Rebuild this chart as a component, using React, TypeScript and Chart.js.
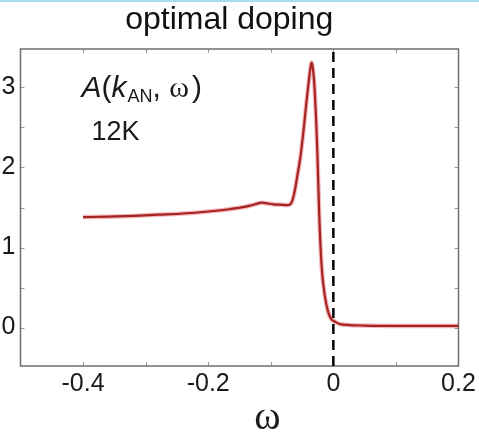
import React, { useEffect, useRef } from "react";
import { Chart, registerables } from "chart.js";

Chart.register(...registerables);

// ---- data ----
const omega = [
  -0.4, -0.36, -0.32, -0.28, -0.24, -0.2, -0.17, -0.14, -0.125, -0.114,
  -0.105, -0.096, -0.085, -0.074, -0.069, -0.066, -0.0614, -0.0575, -0.0534,
  -0.0481, -0.0427, -0.0385, -0.0365, -0.0347, -0.033, -0.0305, -0.0257,
  -0.0225, -0.0187, -0.0134, -0.0085, -0.0054, -0.002, 0.0026, 0.01, 0.0265,
  0.05, 0.1, 0.15, 0.2,
];
const spectral = [
  1.38, 1.385, 1.395, 1.41, 1.425, 1.45, 1.475, 1.51, 1.54, 1.56,
  1.55, 1.54, 1.535, 1.53, 1.54, 1.575, 1.72, 1.9, 2.09,
  2.43, 2.84, 3.13, 3.25, 3.31, 3.25, 3.05, 2.22,
  1.39, 0.76, 0.385, 0.2, 0.135, 0.095, 0.073, 0.045, 0.031,
  0.025, 0.02, 0.02, 0.02,
];
const xRange = [-0.5, 0.2];
const yRange = [-0.48, 3.48];
const xTickLabels = [-0.4, -0.2, 0, 0.2];
const yTickLabels = [0, 1, 2, 3];
const xMarkTicks = [-0.4, -0.3, -0.2, -0.1, 0, 0.1];
const yMarkTicks = [0, 0.5, 1, 1.5, 2, 2.5, 3];
const fermiLevel = 0;
const titleText = "optimal doping";
const xAxisTitle = "ω";
const tempLabel = "12K";

const SANS = "'Liberation Sans', Arial, Helvetica, sans-serif";
const SERIF = "'Liberation Serif', 'Times New Roman', serif";

export default function App() {
  const ref = useRef<HTMLCanvasElement>(null);

  useEffect(() => {
    const canvas = ref.current;
    if (!canvas) return;

    const framePlugin = {
      id: "frame",
      beforeDraw(chart: any) {
        const { ctx, width, height } = chart;
        ctx.save();
        ctx.fillStyle = "#ffffff";
        ctx.fillRect(0, 0, width, height);
        ctx.fillStyle = "#a8dcf5";
        ctx.fillRect(0, 0, width, 2);
        ctx.restore();
      },
      beforeDatasetsDraw(chart: any) {
        const { ctx, chartArea } = chart;
        const xs = chart.scales.x;
        const ys = chart.scales.y;
        const { left, right, top, bottom } = chartArea;
        ctx.save();
        ctx.strokeStyle = "#9a9a9a";
        ctx.lineWidth = 1;
        const len = 4;
        ctx.beginPath();
        xMarkTicks.forEach((v) => {
          const px = Math.round(xs.getPixelForValue(v)) + 0.5;
          ctx.moveTo(px, bottom);
          ctx.lineTo(px, bottom - len);
          ctx.moveTo(px, top);
          ctx.lineTo(px, top + len);
        });
        yMarkTicks.forEach((v) => {
          const py = Math.round(ys.getPixelForValue(v)) + 0.5;
          ctx.moveTo(left, py);
          ctx.lineTo(left + len, py);
          ctx.moveTo(right, py);
          ctx.lineTo(right - len, py);
        });
        ctx.stroke();
        ctx.strokeStyle = "#6e6e6e";
        ctx.lineWidth = 1.5;
        ctx.strokeRect(left, top, right - left, bottom - top);
        ctx.restore();
      },
      afterDraw(chart: any) {
        const { ctx, chartArea } = chart;
        ctx.save();
        ctx.fillStyle = "#1a1a1a";
        ctx.textBaseline = "alphabetic";
        ctx.textAlign = "left";
        // A(k_AN, ω)
        let x = chartArea.left + 61;
        const base = chartArea.top + 48;
        const seg = (t: string, font: string, dy = 0, gap = 0) => {
          ctx.font = font;
          ctx.fillText(t, x, base + dy);
          x += ctx.measureText(t).width + gap;
        };
        seg("A", `italic 30px ${SANS}`);
        seg("(", `30px ${SANS}`);
        seg("k", `italic 30px ${SANS}`, 0, 1);
        seg("AN", `18px ${SANS}`, 5);
        seg(", ", `30px ${SANS}`);
        seg("ω", `30px ${SERIF}`, 0, 3);
        seg(")", `30px ${SANS}`);
        // 12K
        ctx.font = `27px ${SANS}`;
        ctx.fillText(tempLabel, chartArea.left + 71, chartArea.top + 91);
        // x axis title
        ctx.font = `40px ${SERIF}`;
        ctx.textAlign = "center";
        ctx.fillText(xAxisTitle, (chartArea.left + chartArea.right) / 2 + 28, chartArea.bottom + 63);
        ctx.restore();
      },
    };

    const curve = omega.map((w, i) => ({ x: w, y: spectral[i] }));

    const chart = new Chart(canvas, {
      type: "line",
      data: {
        datasets: [
          {
            data: curve,
            borderColor: "rgba(215, 55, 55, 0.35)",
            borderWidth: 4.5,
            pointRadius: 0,
            cubicInterpolationMode: "monotone",
            fill: false,
          },
          {
            data: curve,
            borderColor: "#8e1a1a",
            borderWidth: 2.2,
            pointRadius: 0,
            cubicInterpolationMode: "monotone",
            fill: false,
          },
          {
            data: [
              { x: fermiLevel, y: yRange[0] },
              { x: fermiLevel, y: yRange[1] },
            ],
            borderColor: "#000000",
            borderWidth: 2.5,
            borderDash: [10, 6],
            pointRadius: 0,
            fill: false,
          },
        ],
      },
      options: {
        animation: false,
        responsive: true,
        maintainAspectRatio: false,
        layout: { padding: { left: 0, right: 20.5, top: 0, bottom: 0 } },
        plugins: {
          legend: { display: false },
          tooltip: { enabled: false },
          title: {
            display: true,
            text: titleText,
            color: "#111111",
            font: { size: 32, family: SANS, weight: "normal" },
            padding: { top: 0.8, bottom: 9.8 },
          },
        },
        scales: {
          x: {
            type: "linear",
            min: xRange[0],
            max: xRange[1],
            afterBuildTicks: (s: any) => {
              s.ticks = xTickLabels.map((v) => ({ value: v }));
            },
            afterFit: (s: any) => {
              s.height = 73;
            },
            ticks: {
              color: "#1a1a1a",
              font: { size: 25, family: SANS },
              padding: 3,
              maxRotation: 0,
              autoSkip: false,
              callback: (v: any) => String(v),
            },
            grid: { display: false, drawTicks: false },
            border: { display: false },
          },
          y: {
            type: "linear",
            min: yRange[0],
            max: yRange[1],
            afterBuildTicks: (s: any) => {
              s.ticks = yTickLabels.map((v) => ({ value: v }));
            },
            afterFit: (s: any) => {
              s.width = 20.5;
            },
            ticks: {
              color: "#1a1a1a",
              font: { size: 25, family: SANS },
              padding: 5,
              callback: (v: any) => String(v),
            },
            grid: { display: false, drawTicks: false },
            border: { display: false },
          },
        },
      },
      plugins: [framePlugin],
    });

    return () => chart.destroy();
  }, []);

  return (
    <div
      style={{
        position: "absolute",
        left: 0,
        top: 0,
        width: 479,
        height: 439,
        background: "#ffffff",
      }}
    >
      <canvas ref={ref} />
    </div>
  );
}
